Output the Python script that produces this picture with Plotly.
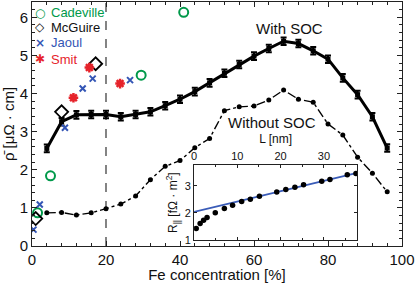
import plotly.graph_objects as go

# ---------------- data ----------------
fe_calc = [4, 8, 12, 16, 20, 24, 28, 32, 36, 40, 44, 48, 52, 56, 60, 64, 68, 72, 76, 80, 84, 88, 92, 96]
rho_soc = [2.56, 3.26, 3.44, 3.45, 3.45, 3.39, 3.45, 3.52, 3.68, 3.85, 4.05, 4.28,
           4.53, 4.76, 4.98, 5.18, 5.37, 5.31, 5.12, 4.90, 4.41, 3.97, 3.39, 2.57]
rho_soc_err = [0.1] * 24
rho_nosoc = [0.87, 0.88, 0.81, 0.87, 0.98, 1.10, 1.31, 1.74, 2.09, 2.24, 2.58, 2.82,
             3.55, 3.65, 3.67, 3.83, 4.09, 3.85, 3.77, 3.20, 2.91, 2.33, 1.91, 1.42]

cadeville_x = [1.5, 5.0, 29.5, 41.0]
cadeville_y = [0.87, 1.84, 4.48, 6.13]
mcguire_x = [1.0, 8.0, 17.2]
mcguire_y = [0.72, 3.52, 4.78]
jaoul_x = [0.4, 2.1, 8.9, 13.7, 16.4, 26.5]
jaoul_y = [0.43, 1.09, 3.10, 4.13, 4.39, 4.35]
smit_x = [11.2, 15.5, 23.8]
smit_y = [3.89, 4.68, 4.26]

inset_L = [0.5, 1.4, 2.2, 3.0, 4.9, 7.0, 8.9, 11.0, 13.0, 15.1, 19.1, 21.2, 23.3, 25.3, 29.5, 31.4, 35.4, 37.4]
inset_R = [1.43, 1.61, 1.73, 1.83, 2.01, 2.16, 2.28, 2.42, 2.50, 2.61, 2.77, 2.86, 2.94, 3.03, 3.16, 3.23, 3.40, 3.45]
fit_L = [0.0, 37.7]
fit_R = [2.04, 3.47]

x_ticks = [0, 20, 40, 60, 80, 100]
y_ticks = [0, 1, 2, 3, 4, 5, 6]
inset_x_ticks = [0, 10, 20, 30]
inset_y_ticks = [1, 2, 3]

legend_names = ["Cadeville", "McGuire", "Jaoul", "Smit"]
legend_glyphs = ["○", "◇", "×", "✱"]

GREEN = "#00994a"
BLUE = "#3355b5"
RED = "#e6232b"
legend_colors = [GREEN, "#111111", BLUE, RED]
FONT = "Liberation Sans, Arial, sans-serif"

fig = go.Figure()

# Without SOC
fig.add_trace(go.Scatter(
    x=fe_calc, y=rho_nosoc, mode="lines+markers",
    line=dict(color="black", width=1.4, dash="dashdot"),
    marker=dict(color="black", size=5), showlegend=False))

# With SOC
fig.add_trace(go.Scatter(
    x=fe_calc, y=rho_soc, mode="lines+markers",
    line=dict(color="black", width=3),
    marker=dict(color="black", size=5, symbol="square"),
    error_y=dict(type="data", array=rho_soc_err, color="black", thickness=2, width=3),
    showlegend=False))

# experiments
fig.add_trace(go.Scatter(
    x=cadeville_x, y=cadeville_y, mode="markers", name="Cadeville", showlegend=False,
    marker=dict(symbol="circle-open", size=9, color=GREEN, line=dict(width=2, color=GREEN))))
fig.add_trace(go.Scatter(
    x=mcguire_x, y=mcguire_y, mode="markers", name="McGuire", showlegend=False,
    marker=dict(symbol="diamond-open", size=10, color="black", line=dict(width=1.8, color="black"))))
fig.add_trace(go.Scatter(
    x=jaoul_x, y=jaoul_y, mode="markers", name="Jaoul", showlegend=False,
    marker=dict(symbol="x-thin-open", size=6, color=BLUE, line=dict(width=2, color=BLUE))))
fig.add_trace(go.Scatter(
    x=smit_x, y=smit_y, mode="markers", name="Smit", showlegend=False,
    marker=dict(symbol="asterisk-open", size=8, color=RED, line=dict(width=2.5, color=RED))))

# inset
fig.add_trace(go.Scatter(
    x=fit_L, y=fit_R, mode="lines", line=dict(color="#3a5cb8", width=1.8),
    xaxis="x2", yaxis="y2", showlegend=False))
fig.add_trace(go.Scatter(
    x=inset_L, y=inset_R, mode="markers", marker=dict(color="black", size=5.5),
    xaxis="x2", yaxis="y2", showlegend=False))

# dashed line at 20 %
fig.add_shape(type="line", x0=20, x1=20, y0=0, y1=6.4, xref="x", yref="y",
              line=dict(color="#333", width=1.2, dash="dash"), layer="below")

fig.add_annotation(x=69.7, y=5.70, text="With SOC", showarrow=False,
                   font=dict(size=15, color="#111", family=FONT))
fig.add_annotation(x=64.9, y=3.23, text="Without SOC", showarrow=False,
                   font=dict(size=15, color="#111", family=FONT))

# legend (top-left, tightly spaced like the original)
legend_y = [0.955, 0.897, 0.832, 0.766]
for name, glyph, col, ly in zip(legend_names, legend_glyphs, legend_colors, legend_y):
    fig.add_annotation(xref="paper", yref="paper", x=0.0205, y=ly, text=f"<b>{glyph}</b>",
                       showarrow=False, xanchor="center", yanchor="middle",
                       font=dict(size=12, color=col, family="DejaVu Sans"))
    fig.add_annotation(xref="paper", yref="paper", x=0.046, y=ly, text=name,
                       showarrow=False, xanchor="left", yanchor="middle",
                       font=dict(size=13, color=col, family=FONT))

axis_common = dict(showline=True, linecolor="#222", linewidth=1, mirror="ticks",
                   ticks="inside", tickcolor="#222", showgrid=False, zeroline=False,
                   automargin=False)

fig.update_layout(
    width=415, height=283,
    margin=dict(l=32, r=13, t=2, b=37),
    paper_bgcolor="white", plot_bgcolor="white",
    font=dict(family=FONT, size=15, color="#111"),
    showlegend=False,
    xaxis=dict(range=[0, 100], tickvals=x_ticks, ticklen=5,
               minor=dict(dtick=4, ticklen=3, ticks="inside", tickcolor="#222"),
               title=dict(text="Fe concentration [%]", font=dict(size=15), standoff=6),
               **axis_common),
    yaxis=dict(range=[0, 6.4], tickvals=y_ticks, ticklen=5,
               minor=dict(dtick=0.2, ticklen=3, ticks="inside", tickcolor="#222"),
               title=dict(text="ρ\u0304 [μΩ · cm]", font=dict(size=15), standoff=2),
               **axis_common),
    xaxis2=dict(domain=[0.438, 0.879], anchor="y2", side="top", range=[0, 37.7],
                tickvals=inset_x_ticks, ticklen=3, tickfont=dict(size=11),
                minor=dict(dtick=5, ticklen=2, ticks="inside", tickcolor="#222"),
                title=dict(text="L [nm]", font=dict(size=12), standoff=3),
                **axis_common),
    yaxis2=dict(domain=[0.024, 0.331], anchor="x2", range=[1, 3.75],
                tickvals=inset_y_ticks, ticklen=3, tickfont=dict(size=11),
                title=dict(text="R<sub>||</sub> [fΩ · m<sup>2</sup>]", font=dict(size=12), standoff=4),
                **axis_common),
)

fig.write_html("out.html", config={"displayModeBar": False},
               post_script="document.body.style.margin='0px';")
